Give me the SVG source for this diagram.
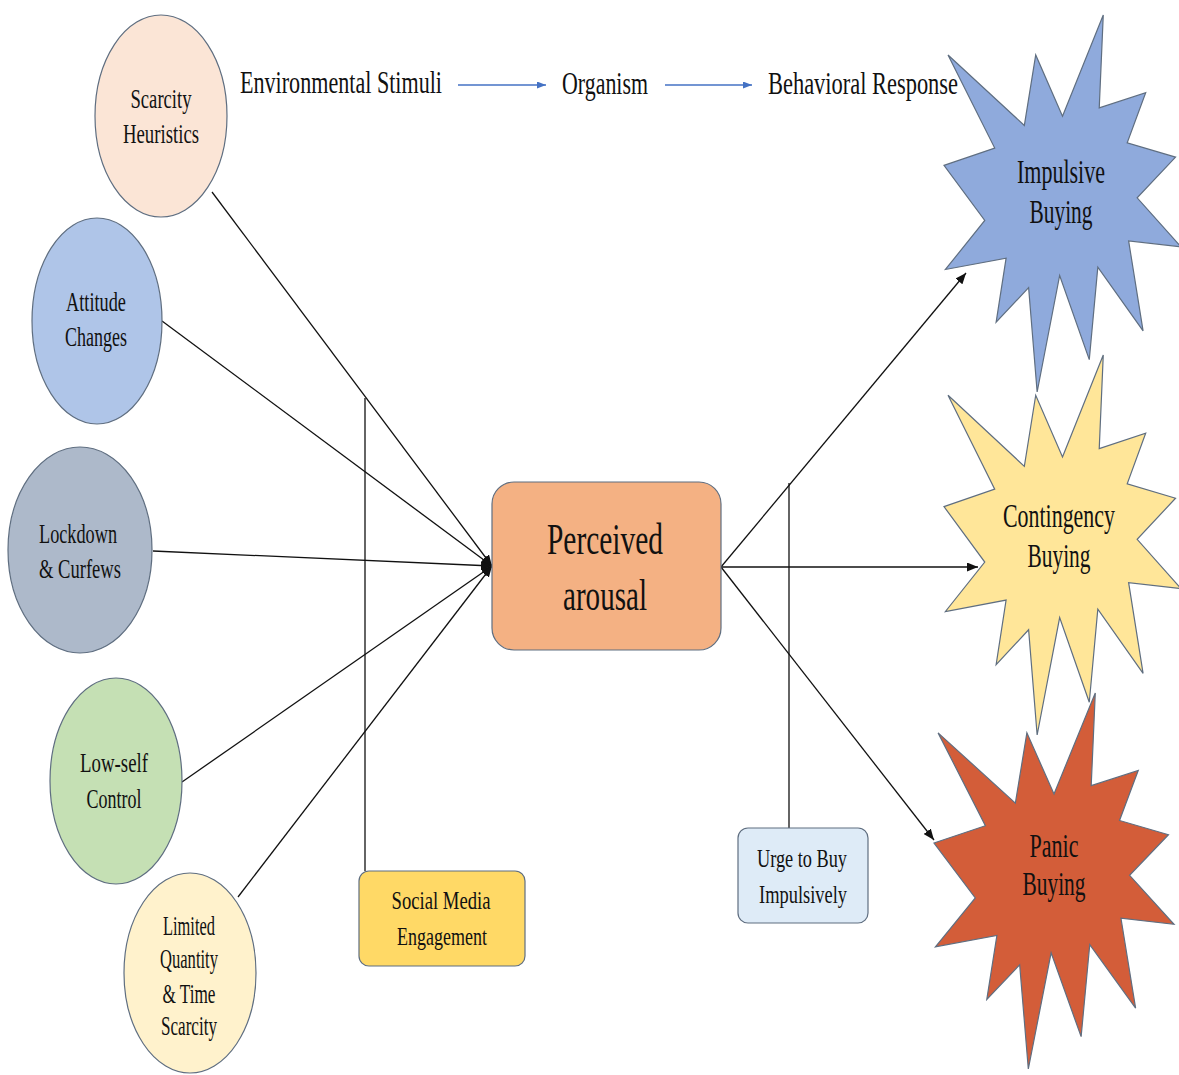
<svg xmlns="http://www.w3.org/2000/svg" xmlns:xlink="http://www.w3.org/1999/xlink" width="1179" height="1075" viewBox="0 0 1179 1075">
<style>
text{font-family:"Liberation Serif","Times New Roman",serif;fill:#111;text-anchor:middle}
.h{font-size:32px;text-anchor:start}
.e{font-size:27px}
.b{font-size:26px}
.s{font-size:34px}
.p{font-size:44px}
.shape{stroke:#5f6e80;stroke-width:1.2}
.ln{stroke:#111;stroke-width:1.3;fill:none}
.bl{stroke:#4472C4;stroke-width:1.3;fill:none}
</style>
<defs>
<marker id="ah" markerUnits="userSpaceOnUse" markerWidth="11" markerHeight="9" refX="11" refY="4.5" orient="auto"><path d="M0,0 L11,4.5 L0,9 z" fill="#111"/></marker>
<marker id="bh" markerUnits="userSpaceOnUse" markerWidth="9" markerHeight="7" refX="9" refY="3.5" orient="auto"><path d="M0,0 L9,3.5 L0,7 z" fill="#4472C4"/></marker>
<path id="seal" vector-effect="non-scaling-stroke" d="M500,268.5 L672,0 L655,246.5 L851,206 L773,339 L977,377 L815,485 L1000,615 L779,599 L840,838 L649,669 L613,914 L488,691 L393,1000 L357,723 L220,815 L262,645 L6,675 L172,545 L0,399 L214,353 L17,106 L339,293 L387,106 Z"/>
</defs>
<rect width="1179" height="1075" fill="#fff"/>

<g id="header">
<text class="h" x="240" y="93" textLength="202" lengthAdjust="spacingAndGlyphs">Environmental Stimuli</text>
<text class="h" x="562" y="94" textLength="86" lengthAdjust="spacingAndGlyphs">Organism</text>
<text class="h" x="768" y="94" textLength="190" lengthAdjust="spacingAndGlyphs">Behavioral Response</text>
<line class="bl" x1="458" y1="85" x2="546" y2="85" marker-end="url(#bh)"/>
<line class="bl" x1="665" y1="85" x2="752" y2="85" marker-end="url(#bh)"/>
</g>

<g id="connectors">
<line class="ln" x1="212" y1="192" x2="492" y2="566" marker-end="url(#ah)"/>
<line class="ln" x1="162" y1="321" x2="492" y2="566" marker-end="url(#ah)"/>
<line class="ln" x1="153" y1="551" x2="492" y2="566" marker-end="url(#ah)"/>
<line class="ln" x1="182" y1="782" x2="492" y2="566" marker-end="url(#ah)"/>
<line class="ln" x1="238" y1="897" x2="492" y2="566" marker-end="url(#ah)"/>
<line class="ln" x1="365" y1="398" x2="365" y2="871"/>
<line class="ln" x1="721" y1="567" x2="966" y2="273" marker-end="url(#ah)"/>
<line class="ln" x1="721" y1="567" x2="978" y2="567" marker-end="url(#ah)"/>
<line class="ln" x1="721" y1="567" x2="934" y2="840" marker-end="url(#ah)"/>
<line class="ln" x1="789" y1="483" x2="789" y2="828"/>
</g>

<g id="scarcity-heuristics">
<ellipse class="shape" cx="161" cy="116" rx="66" ry="101" fill="#FBE5D6"/>
<text class="e" x="161" y="108" textLength="61" lengthAdjust="spacingAndGlyphs">Scarcity</text>
<text class="e" x="161" y="143" textLength="76" lengthAdjust="spacingAndGlyphs">Heuristics</text>
</g>
<g id="attitude-changes">
<ellipse class="shape" cx="97" cy="321" rx="65" ry="103" fill="#AFC5E8"/>
<text class="e" x="96" y="311" textLength="60" lengthAdjust="spacingAndGlyphs">Attitude</text>
<text class="e" x="96" y="346" textLength="62" lengthAdjust="spacingAndGlyphs">Changes</text>
</g>
<g id="lockdown-curfews">
<ellipse class="shape" cx="80" cy="550" rx="72" ry="103" fill="#ADB9CA"/>
<text class="e" x="78" y="543" textLength="78" lengthAdjust="spacingAndGlyphs">Lockdown</text>
<text class="e" x="80" y="578" textLength="82" lengthAdjust="spacingAndGlyphs">&amp; Curfews</text>
</g>
<g id="low-self-control">
<ellipse class="shape" cx="116" cy="781" rx="66" ry="103" fill="#C5E0B4"/>
<text class="e" x="114" y="772" textLength="68" lengthAdjust="spacingAndGlyphs">Low-self</text>
<text class="e" x="114" y="808" textLength="55" lengthAdjust="spacingAndGlyphs">Control</text>
</g>
<g id="limited-quantity">
<ellipse class="shape" cx="190" cy="973" rx="66" ry="100" fill="#FFF2CC"/>
<text class="e" x="189" y="935" textLength="52" lengthAdjust="spacingAndGlyphs">Limited</text>
<text class="e" x="189" y="968" textLength="58" lengthAdjust="spacingAndGlyphs">Quantity</text>
<text class="e" x="189" y="1003" textLength="53" lengthAdjust="spacingAndGlyphs">&amp; Time</text>
<text class="e" x="189" y="1035" textLength="56" lengthAdjust="spacingAndGlyphs">Scarcity</text>
</g>

<g id="perceived-arousal">
<rect class="shape" x="492" y="482" width="229" height="168" rx="22" fill="#F4B183"/>
<text class="p" x="605" y="554" textLength="116" lengthAdjust="spacingAndGlyphs">Perceived</text>
<text class="p" x="605" y="610" textLength="84" lengthAdjust="spacingAndGlyphs">arousal</text>
</g>

<g id="social-media">
<rect class="shape" x="359" y="871" width="166" height="95" rx="10" fill="#FFD966"/>
<text class="b" x="441" y="909" textLength="99" lengthAdjust="spacingAndGlyphs">Social Media</text>
<text class="b" x="442" y="945" textLength="90" lengthAdjust="spacingAndGlyphs">Engagement</text>
</g>

<g id="urge-to-buy">
<rect class="shape" x="738" y="828" width="130" height="95" rx="10" fill="#DEEBF7"/>
<text class="b" x="802" y="867" textLength="90" lengthAdjust="spacingAndGlyphs">Urge to Buy</text>
<text class="b" x="803" y="903" textLength="88" lengthAdjust="spacingAndGlyphs">Impulsively</text>
</g>

<g id="impulsive-buying">
<use xlink:href="#seal" class="shape" fill="#8FAADC" transform="translate(944,15) scale(0.237,0.377)"/>
<text class="s" x="1061" y="183" textLength="88" lengthAdjust="spacingAndGlyphs">Impulsive</text>
<text class="s" x="1061" y="223" textLength="63" lengthAdjust="spacingAndGlyphs">Buying</text>
</g>
<g id="contingency-buying">
<use xlink:href="#seal" class="shape" fill="#FFE699" transform="translate(944,355) scale(0.237,0.38)"/>
<text class="s" x="1059" y="527" textLength="112" lengthAdjust="spacingAndGlyphs">Contingency</text>
<text class="s" x="1059" y="567" textLength="63" lengthAdjust="spacingAndGlyphs">Buying</text>
</g>
<g id="panic-buying">
<use xlink:href="#seal" class="shape" fill="#D35D39" transform="translate(934,693) scale(0.24,0.376)"/>
<text class="s" x="1054" y="857" textLength="49" lengthAdjust="spacingAndGlyphs">Panic</text>
<text class="s" x="1054" y="895" textLength="63" lengthAdjust="spacingAndGlyphs">Buying</text>
</g>
</svg>
